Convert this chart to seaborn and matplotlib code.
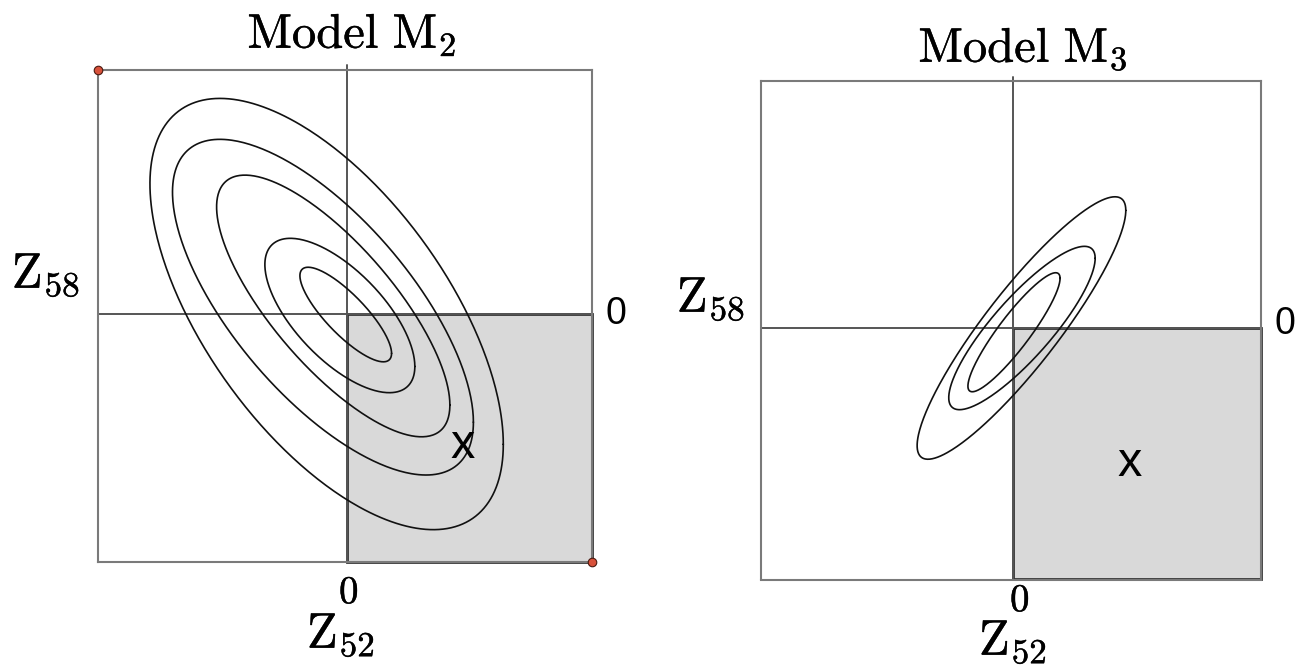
import numpy as np
import pandas as pd
import matplotlib
matplotlib.use("Agg")
import matplotlib.pyplot as plt
import matplotlib.patheffects as pe
from matplotlib.patches import Rectangle
import seaborn as sns

# ---------------- data ----------------
# Model M2 contour ellipses (centre, half-extent in x / y, correlation)
m2_cx = [-0.083, -0.098, -0.056, -0.029, -0.005]
m2_cy = [0.000, 0.028, 0.033, -0.006, -0.002]
m2_hx = [0.721, 0.614, 0.476, 0.306, 0.187]
m2_hy = [0.880, 0.685, 0.534, 0.315, 0.193]
m2_r = [-0.604, -0.685, -0.757, -0.660, -0.820]

# Model M3 contour ellipses
m3_cx = [0.034, 0.036, 0.004]
m3_cy = [0.000, 0.000, -0.017]
m3_hx = [0.419, 0.294, 0.185]
m3_hy = [0.527, 0.328, 0.239]
m3_r = [0.896, 0.853, 0.905]

# observed point "x"
m2_obs = (0.471, -0.535)
m3_obs = (0.470, -0.545)

titles = [r"$\mathrm{Model\ M}_2$", r"$\mathrm{Model\ M}_3$"]
xlabel = r"$\mathrm{Z}_{52}$"
ylabel = r"$\mathrm{Z}_{58}$"
zero_label = "0"
obs_label = "x"

# axis limits
m2_xlim = (-1.016, 1.0)
m2_ylim = (-1.012, 0.996)
m3_xlim = (-1.012, 0.996)
m3_ylim = (-1.010, 0.992)

# ---------------- style ----------------
sns.set_theme(style="white")
plt.rcParams["font.family"] = ["DejaVu Sans"]
plt.rcParams["mathtext.fontset"] = "cm"
plt.rcParams["text.color"] = "black"

W, H = 1311, 667
fig = plt.figure(figsize=(W / 100, H / 100), dpi=100)
heavy = [pe.withStroke(linewidth=0.3, foreground="black")]


def add_ax(l, t, r, b):
    return fig.add_axes([l / W, 1 - b / H, (r - l) / W, (b - t) / H])


def ellipse_frame(cx, cy, hx, hy, rr, n=400):
    frames = []
    t = np.linspace(0, 2 * np.pi, n)
    for i, (a, b, sx, sy, r) in enumerate(zip(cx, cy, hx, hy, rr)):
        x = a + sx * np.cos(t)
        y = b + sy * (r * np.cos(t) + np.sqrt(1 - r * r) * np.sin(t))
        frames.append(pd.DataFrame({"x": x, "y": y, "id": i}))
    return pd.concat(frames, ignore_index=True)


def draw_panel(ax, xlim, ylim, cx, cy, hx, hy, rr, obs, corner_dots, vext):
    ax.set_xlim(*xlim)
    ax.set_ylim(*ylim)
    ax.set_xticks([])
    ax.set_yticks([])
    for s in ax.spines.values():
        s.set_visible(True)
        s.set_color("#7a7a7a")
        s.set_linewidth(1.5)
    # shaded quadrant
    ax.add_patch(Rectangle((0, ylim[0]), xlim[1], -ylim[0], facecolor="#d9d9d9",
                           edgecolor="#333333", linewidth=2.0, clip_on=False, zorder=1))
    # axis cross
    ax.plot([xlim[0], xlim[1]], [0, 0], color="#555555", lw=1.4, zorder=2)
    ax.plot([0, 0], [ylim[0], ylim[1] + vext], color="#555555", lw=1.4, zorder=2,
            clip_on=False)
    df = ellipse_frame(cx, cy, hx, hy, rr)
    sns.lineplot(data=df, x="x", y="y", units="id", estimator=None, sort=False,
                 color="#111111", lw=1.2, ax=ax, zorder=3, legend=False)
    ax.set_xlabel("")
    ax.set_ylabel("")
    ax.text(obs[0], obs[1], obs_label, fontsize=35, family="Liberation Sans",
            ha="center", va="center", color="black", zorder=4)
    if corner_dots:
        sns.scatterplot(x=[xlim[0], xlim[1]], y=[ylim[1], ylim[0]], color="#d8513a",
                        edgecolor="#4a1a10", linewidth=0.8, s=38, ax=ax,
                        clip_on=False, zorder=6, legend=False)


ax1 = add_ax(98, 70, 592, 562)
draw_panel(ax1, m2_xlim, m2_ylim, m2_cx, m2_cy, m2_hx, m2_hy, m2_r, m2_obs, True, 0.02)

ax2 = add_ax(761, 81, 1261, 579.5)
draw_panel(ax2, m3_xlim, m3_ylim, m3_cx, m3_cy, m3_hx, m3_hy, m3_r, m3_obs, False, 0.016)


def ftext(x, y, s, **kw):
    fig.text(x / W, 1 - y / H, s, color="black", **kw)


# titles
ftext(352, 48, titles[0], fontsize=35, ha="center", va="baseline", path_effects=heavy)
ftext(1023, 62, titles[1], fontsize=35, ha="center", va="baseline", path_effects=heavy)
# y labels
ftext(46, 288, ylabel, fontsize=36, ha="center", va="baseline", path_effects=heavy)
ftext(711, 312, ylabel, fontsize=36, ha="center", va="baseline", path_effects=heavy)
# x labels
ftext(341, 648, xlabel, fontsize=36, ha="center", va="baseline", path_effects=heavy)
ftext(1013, 655, xlabel, fontsize=36, ha="center", va="baseline", path_effects=heavy)
# bottom zeros (serif)
ftext(349, 592, r"$0$", fontsize=28, ha="center", va="center", path_effects=heavy)
ftext(1020, 600, r"$0$", fontsize=28, ha="center", va="center", path_effects=heavy)
# right zeros (sans)
ftext(616, 314, zero_label, fontsize=27, family="Liberation Sans", ha="center", va="center")
ftext(1285, 324, zero_label, fontsize=27, family="Liberation Sans", ha="center", va="center")

fig.savefig("out.png", dpi=100)
